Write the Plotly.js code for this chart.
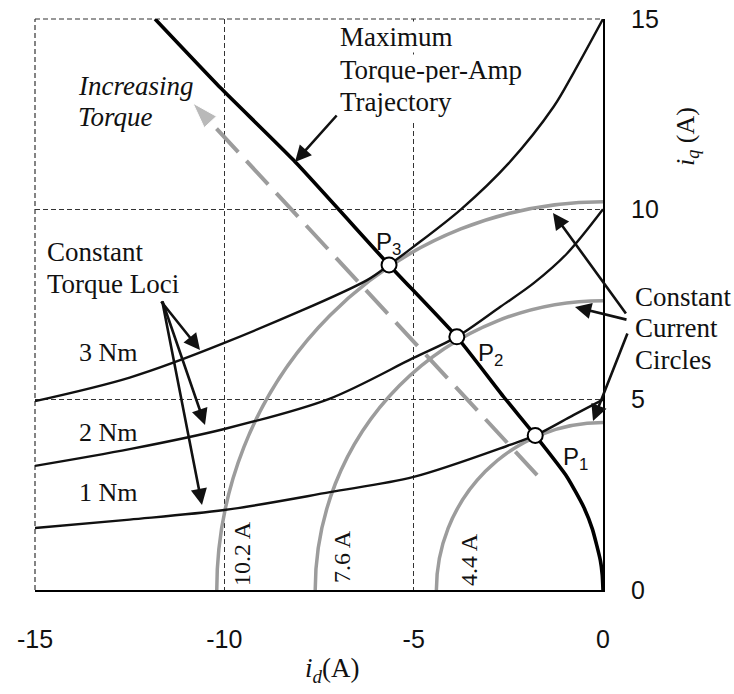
<!DOCTYPE html>
<html>
<head>
<meta charset="utf-8">
<script src="https://cdn.plot.ly/plotly-3.0.1.min.js"></script>
<style>
  html, body { margin: 0; padding: 0; background: #ffffff; }
  #chart { width: 734px; height: 694px; }
</style>
</head>
<body>
<div id="chart"></div>
<script>
// d-q current plane of an interior PM machine (currents in A)

// Maximum torque-per-amp trajectory
const mtpaId = [0, -0.02, -0.07, -0.28, -0.51, -0.95, -1.79, -2.62, -3.86, -5.65, -8.18, -10.11, -11.83];
const mtpaIq = [0, 0.40, 0.78, 1.60, 2.18, 2.97, 4.06, 5.07, 6.65, 8.54, 11.30, 13.20, 15.00];

// Constant torque loci
const torque1Id = [-15, -12.5, -10, -7.21, -5, -2.46, -1.79, -0.77, 0];
const torque1Iq = [1.63, 1.85, 2.10, 2.57, 2.97, 3.81, 4.06, 4.60, 5.00];
const torque2Id = [-15, -12.5, -10, -7.21, -5.02, -3.86, -2.71, -1.83, -0.95, 0];
const torque2Iq = [3.26, 3.70, 4.23, 5.03, 6.09, 6.65, 7.44, 8.06, 8.84, 10.00];
const torque3Id = [-15, -12.5, -10, -6.23, -5.65, -5, -3.75, -2.5, -1.3, -0.77, 0];
const torque3Iq = [4.96, 5.58, 6.49, 8.14, 8.54, 9.02, 10.00, 11.20, 12.70, 13.60, 15.00];
const torqueLabels = ['1 Nm', '2 Nm', '3 Nm'];

// Constant current circle radii
const currentRadii = [10.2, 7.6, 4.4];
const currentLabels = ['10.2 A', '7.6 A', '4.4 A'];

// MTPA operating points
const opNames = ['P1', 'P2', 'P3'];
const opId = [-1.79, -3.86, -5.65];
const opIq = [4.06, 6.65, 8.54];

// Direction of increasing torque (start, end)
const trendId = [-1.74, -10.83];
const trendIq = [3.02, 12.79];

// Axis ticks
const xTicks = [-15, -10, -5, 0];
const yTicks = [0, 5, 10, 15];

// ---- plot-area geometry (pixels) ----
const W = 734, H = 694;
const M = { l: 35, r: 131, t: 19, b: 104 };
const PW = W - M.l - M.r, PH = H - M.t - M.b;
const fx = p => (p - M.l) / PW;          // pixel x -> paper
const fy = p => (H - M.b - p) / PH;      // pixel y -> paper

const SERIF = 'Liberation Serif, Times New Roman, serif';
const SANS = 'Liberation Sans, Arial, sans-serif';
const GRAY = '#9c9c9c';

const torqueId = [torque1Id, torque2Id, torque3Id];
const torqueIq = [torque1Iq, torque2Iq, torque3Iq];

const traces = [];
torqueId.forEach((ids, i) => {
  traces.push({
    x: ids, y: torqueIq[i], name: torqueLabels[i], type: 'scatter', mode: 'lines',
    line: { color: '#111', width: 2.4, shape: 'spline', smoothing: 0.9 },
    hoverinfo: 'name'
  });
});
traces.push({
  x: mtpaId, y: mtpaIq, name: 'MTPA', type: 'scatter', mode: 'lines',
  line: { color: '#000', width: 3.6, shape: 'spline', smoothing: 0.5 }
});
traces.push({
  x: trendId, y: trendIq, name: 'Increasing Torque', type: 'scatter', mode: 'lines+markers',
  line: { color: GRAY, width: 4, dash: '32px,12px' },
  marker: { symbol: ['circle', 'arrow'], size: [0, 27], color: GRAY, angleref: 'previous' }
});
traces.push({
  x: opId, y: opIq, name: 'Operating points', type: 'scatter', mode: 'markers',
  text: opNames,
  marker: { symbol: 'circle', size: 15, color: '#fff', line: { color: '#000', width: 2 } }
});

const shapes = [];
currentRadii.forEach(r => {
  shapes.push({
    type: 'circle', xref: 'x', yref: 'y', x0: -r, x1: r, y0: -r, y1: r,
    line: { color: GRAY, width: 3.5 }, layer: 'between'
  });
});
// dashed left and top frame edges
shapes.push({ type: 'line', xref: 'paper', yref: 'paper', x0: 0, x1: 0, y0: 0, y1: 1,
  line: { color: '#333', width: 1.2, dash: '5px,3px' }, layer: 'below' });
shapes.push({ type: 'line', xref: 'paper', yref: 'paper', x0: 0, x1: 1, y0: 1, y1: 1,
  line: { color: '#333', width: 1.2, dash: '5px,3px' }, layer: 'below' });

const annotations = [];
function label(text, px, py, opts) {
  annotations.push(Object.assign({
    text: text, xref: 'paper', yref: 'paper', x: fx(px), y: fy(py),
    xanchor: 'left', yanchor: 'middle', showarrow: false,
    font: { family: SERIF, size: 27, color: '#111' }
  }, opts || {}));
}
function arrow(hx, hy, tx, ty) {
  annotations.push({
    text: '', xref: 'paper', yref: 'paper', x: fx(hx), y: fy(hy),
    ax: tx - hx, ay: ty - hy, showarrow: true,
    arrowhead: 2, arrowsize: 1.25, arrowwidth: 2.6, arrowcolor: '#111'
  });
}

// text blocks
const white = { bgcolor: '#ffffff', borderpad: 0 };
label('Maximum', 339, 37, white);
label('Torque-per-Amp', 339, 70, white);
label('Trajectory', 335, 102, Object.assign({}, white, { borderpad: 4 }));
label('<i>Increasing</i>', 76, 86);
label('<i>Torque</i>', 76, 117);
label('Constant', 45, 252);
label('Torque Loci', 45, 284);
label('Constant', 633, 297);
label('Current', 633, 328);
label('Circles', 633, 360);
label(torqueLabels[2], 77, 352, { font: { family: SERIF, size: 26, color: '#111' } });
label(torqueLabels[1], 77, 432, { font: { family: SERIF, size: 26, color: '#111' } });
label(torqueLabels[0], 77, 492, { font: { family: SERIF, size: 26, color: '#111' } });

// circle radius labels
[[242, 554], [342, 557], [469, 560]].forEach((p, i) => {
  label(currentLabels[i], p[0], p[1], { xanchor: 'center', textangle: -90,
    font: { family: SERIF, size: 24, color: '#111' } });
});

// operating point labels
[[561, 459], [476, 354], [374, 243]].forEach((p, i) => {
  label('P<sub>' + opNames[i].slice(1) + '</sub>', p[0], p[1],
    { font: { family: SANS, size: 24, color: '#111' } });
});

// axis titles
label('<i>i</i><sub><i>d</i></sub>(A)', 332, 670, { xanchor: 'center',
  font: { family: SERIF, size: 27, color: '#111' } });
label('<i>i</i><sub><i>q</i></sub> (A)', 687, 137, { xanchor: 'center', textangle: -90,
  font: { family: SERIF, size: 26, color: '#111' } });

// pointer arrows
arrow(295, 162, 338, 114);
arrow(200, 350, 160, 300);
arrow(205, 425, 162, 300);
arrow(202, 505, 162, 300);
arrow(553, 213, 627, 315);
arrow(575, 307, 628, 320);
arrow(593, 421, 628, 332);

const layout = {
  width: W, height: H,
  margin: M,
  paper_bgcolor: '#ffffff', plot_bgcolor: '#ffffff',
  showlegend: false,
  xaxis: {
    range: [-15, 0], tickvals: xTicks, ticktext: xTicks.map(String),
    showgrid: true, gridcolor: '#333', gridwidth: 1.2, griddash: '5px,3px',
    zeroline: false, showline: true, linecolor: '#000', linewidth: 2,
    ticks: '', ticklabelstandoff: 26,
    tickfont: { family: SANS, size: 25, color: '#111' }
  },
  yaxis: {
    range: [0, 15], tickvals: yTicks, ticktext: yTicks.map(String), side: 'right',
    showgrid: true, gridcolor: '#333', gridwidth: 1.2, griddash: '5px,3px',
    zeroline: false, showline: true, linecolor: '#000', linewidth: 2,
    ticks: '', ticklabelstandoff: 21,
    tickfont: { family: SANS, size: 25, color: '#111' }
  },
  shapes: shapes,
  annotations: annotations
};

Plotly.newPlot('chart', traces, layout, { displayModeBar: false, staticPlot: true });
</script>
</body>
</html>
